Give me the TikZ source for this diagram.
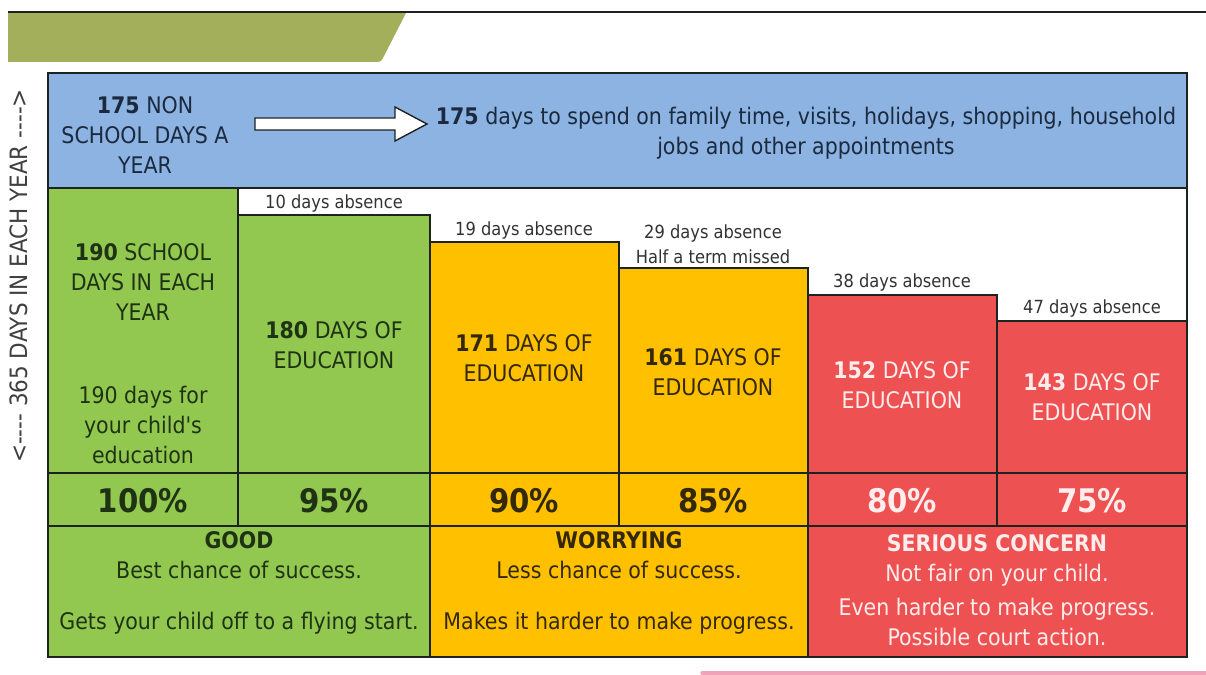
\documentclass[tikz,border=0pt]{standalone}
\usepackage{fontspec}
\setmainfont{DejaVu Sans Condensed}
\definecolor{skyrow}{HTML}{8DB3E2}
\definecolor{goodgreen}{HTML}{92C850}
\definecolor{warnyellow}{HTML}{FFC000}
\definecolor{badred}{HTML}{EE5152}
\definecolor{banner}{HTML}{A3AF5B}
\definecolor{framedark}{HTML}{1C2321}
\definecolor{greentext}{HTML}{1F3314}
\definecolor{yellowtext}{HTML}{33280A}
\definecolor{redtext}{HTML}{FFEDED}
\definecolor{bluetext}{HTML}{1B2A3F}
\definecolor{pinkline}{HTML}{F2A2B8}
\tikzset{
  box/.style={draw=framedark, line width=1.1pt},
  big/.style={align=center, font=\fontsize{13}{17}\selectfont},
  small/.style={align=center, font=\fontsize{10.3}{14}\selectfont, text=black!80},
  pct/.style={font=\fontsize{18.5}{20}\selectfont\bfseries},
}
\begin{document}
\begin{tikzpicture}[x=0.02cm, y=-0.02cm]
  \useasboundingbox (0,0) rectangle (1206,675);
  \fill[banner] (8,13) -- (406,13) -- (384,56) .. controls (381,62) .. (374,62) -- (8,62) -- cycle;
  \draw[framedark, line width=1.2pt] (8,12) -- (1206,12);
  \draw[pinkline, line width=2pt, line cap=round] (702,673) -- (1206,673);

  \fill[white] (48,73) rectangle (1187,657);
  \filldraw[box, fill=skyrow] (48,73) rectangle (1187,188);
  \filldraw[box, fill=goodgreen] (48,188) rectangle (238,473);
  \filldraw[box, fill=goodgreen] (238,215) rectangle (430,473);
  \filldraw[box, fill=warnyellow] (430,242) rectangle (619,473);
  \filldraw[box, fill=warnyellow] (619,268) rectangle (808,473);
  \filldraw[box, fill=badred] (808,295) rectangle (997,473);
  \filldraw[box, fill=badred] (997,321) rectangle (1187,473);
  \filldraw[box, fill=goodgreen] (48,473) rectangle (238,526);
  \filldraw[box, fill=goodgreen] (238,473) rectangle (430,526);
  \filldraw[box, fill=warnyellow] (430,473) rectangle (619,526);
  \filldraw[box, fill=warnyellow] (619,473) rectangle (808,526);
  \filldraw[box, fill=badred] (808,473) rectangle (997,526);
  \filldraw[box, fill=badred] (997,473) rectangle (1187,526);
  \filldraw[box, fill=goodgreen] (48,526) rectangle (430,657);
  \filldraw[box, fill=warnyellow] (430,526) rectangle (808,657);
  \filldraw[box, fill=badred] (808,526) rectangle (1187,657);
  \draw[box] (48,73) rectangle (1187,657);

  \node[big, font=\fontsize{13.6}{17}\selectfont, text=black!75, rotate=90] (yearside) at (19,276)
    {<{-}{-}{-}{-} 365 DAYS IN EACH YEAR {-}{-}{-}{-}>};

  \node[big, text=bluetext] (nonschool) at (145,135) {\textbf{175} NON\\SCHOOL DAYS A\\YEAR};
  \node[big, text=bluetext] (spend) at (806,133)
    {\textbf{175} days to spend on family time, visits, holidays, shopping, household\\jobs and other appointments};
  \coordinate (arrowtail) at (255,118);
  \draw[framedark, fill=white, line width=0.8pt] (arrowtail) -- ++(140,0) -- ++(0,-11) -- ++(32,17)
    -- ++(-32,17) -- ++(0,-11) -- ++(-140,0) -- cycle;

  \node[big, text=greentext] (school) at (143,282) {\textbf{190} SCHOOL\\DAYS IN EACH\\YEAR};
  \node[big, text=greentext] (schooledu) at (143,425)
    {190 days for\\your child{\addfontfeature{Ligatures=TeXOff}'}s\\education};
  \node[big, text=greentext] (edu180) at (334,345) {\textbf{180} DAYS OF\\EDUCATION};
  \node[big, text=yellowtext] (edu171) at (524,358) {\textbf{171} DAYS OF\\EDUCATION};
  \node[big, text=yellowtext] (edu161) at (713,372) {\textbf{161} DAYS OF\\EDUCATION};
  \node[big, text=redtext] (edu152) at (902,385) {\textbf{152} DAYS OF\\EDUCATION};
  \node[big, text=redtext] (edu143) at (1092,397) {\textbf{143} DAYS OF\\EDUCATION};

  \node[small] (abs10) at (334,204) {10 days absence};
  \node[small] (abs19) at (524,231) {19 days absence};
  \node[small] (abs29) at (713,244) {29 days absence\\Half a term missed};
  \node[small] (abs38) at (902,283) {38 days absence};
  \node[small] (abs47) at (1092,309) {47 days absence};

  \node[pct, text=greentext] (p100) at (143,501) {100\%};
  \node[pct, text=greentext] (p95) at (334,501) {95\%};
  \node[pct, text=yellowtext] (p90) at (524,501) {90\%};
  \node[pct, text=yellowtext] (p85) at (713,501) {85\%};
  \node[pct, text=redtext] (p80) at (902,501) {80\%};
  \node[pct, text=redtext] (p75) at (1092,501) {75\%};

  \node[big, text=greentext] (good) at (239,583)
    {\textbf{GOOD}\\Best chance of success.\\[0.42cm]Gets your child off to a flying start.};
  \node[big, text=yellowtext] (worry) at (619,583)
    {\textbf{WORRYING}\\Less chance of success.\\[0.42cm]Makes it harder to make progress.};
  \node[big, text=redtext] (concern) at (997,590)
    {\textbf{SERIOUS CONCERN}\\Not fair on your child.\\[0.08cm]Even harder to make progress.\\Possible court action.};
\end{tikzpicture}
\end{document}
